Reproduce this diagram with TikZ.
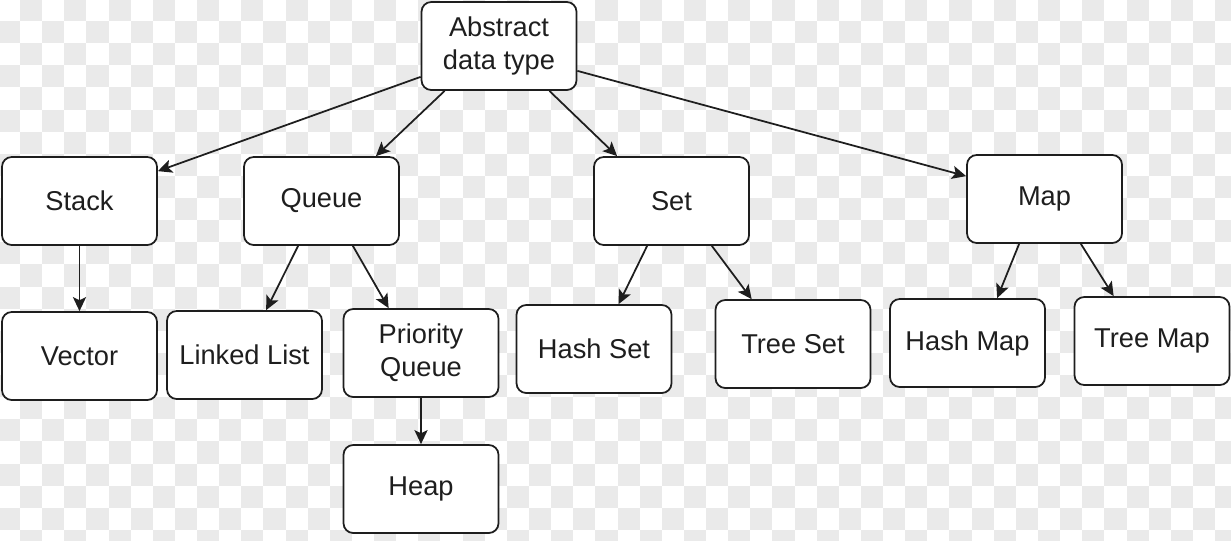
\documentclass[tikz,border=0pt]{standalone}
\usepackage{fontspec}
\setmainfont{Liberation Sans}
\usetikzlibrary{calc,arrows.meta}
\definecolor{bggrey}{RGB}{234,234,234}
\definecolor{ink}{RGB}{30,30,30}
\tikzset{
  box/.style={draw=ink, fill=white, line width=1pt, rounded corners=5.5pt,
    minimum width=3.1cm, minimum height=1.76cm, inner sep=0pt, align=center,
    text=ink, font=\fontsize{15.5}{18.7}\selectfont},
  conn/.style={draw=ink, line width=1pt,
    -{Stealth[length=8pt, width=7.5pt, inset=1.8pt]}},
  bgsq/.style={fill=bggrey, draw=none}
}
\begin{document}
\begin{tikzpicture}[x=0.02cm, y=-0.02cm]
\useasboundingbox (0,0) rectangle (1231,541);
\begin{scope}
\clip (0,0) rectangle (1231,541);
\fill[white] (0,0) rectangle (1231,541);
\foreach \i in {0,...,56}{
  \foreach \j in {0,...,12}{
    \pgfmathsetmacro\xa{-2.13+22.13*\i}
    \pgfmathsetmacro\ya{-1.13+22.13*(2*\j+1-mod(\i,2))}
    \fill[bgsq] (\xa,\ya) rectangle ++(22.13,22.13);
  }
}
\end{scope}

\node[box] (adt) at (499,46) {Abstract\\data type};
\node[box] (stack) at (79.5,201) {Stack};
\node[box] (queue) at (321.5,201) {Queue};
\node[box] (set) at (671.5,201) {Set};
\node[box] (map) at (1044.5,199) {Map};
\node[box] (vector) at (79.5,356) {Vector};
\node[box] (ll) at (244.5,355) {Linked List};
\node[box] (pq) at (421,353) {Priority\\Queue};
\node[box] (heap) at (421,489) {Heap};
\node[box] (hs) at (594,349) {Hash Set};
\node[box] (ts) at (793,344) {Tree Set};
\node[box] (hm) at (967.5,343) {Hash Map};
\node[box] (tm) at (1152,341) {Tree Map};

\draw[conn] ($(adt.south west)+(0,-14)$) -- ($(stack.north east)+(0,15)$);
\draw[conn] ($(adt.south west)+(24,0)$) -- ($(queue.north east)+(-24,0)$);
\draw[conn] ($(adt.south east)+(-28,0)$) -- ($(set.north west)+(24,0)$);
\draw[conn] ($(adt.south east)+(0,-20)$) -- ($(map.north west)+(0,22)$);
\draw[conn] (stack.south) -- (vector.north);
\draw[conn] ($(queue.south west)+(55,0)$) -- ($(ll.north west)+(100,0)$);
\draw[conn] ($(queue.south east)+(-47,0)$) -- ($(pq.north west)+(46,0)$);
\draw[conn] (pq.south) -- (heap.north);
\draw[conn] ($(set.south west)+(54,0)$) -- ($(hs.north west)+(103,0)$);
\draw[conn] ($(set.south east)+(-38,0)$) -- ($(ts.north west)+(37,0)$);
\draw[conn] ($(map.south west)+(53,0)$) -- ($(hm.north west)+(108,0)$);
\draw[conn] ($(map.south east)+(-42,0)$) -- ($(tm.north west)+(40,0)$);
\end{tikzpicture}
\end{document}
